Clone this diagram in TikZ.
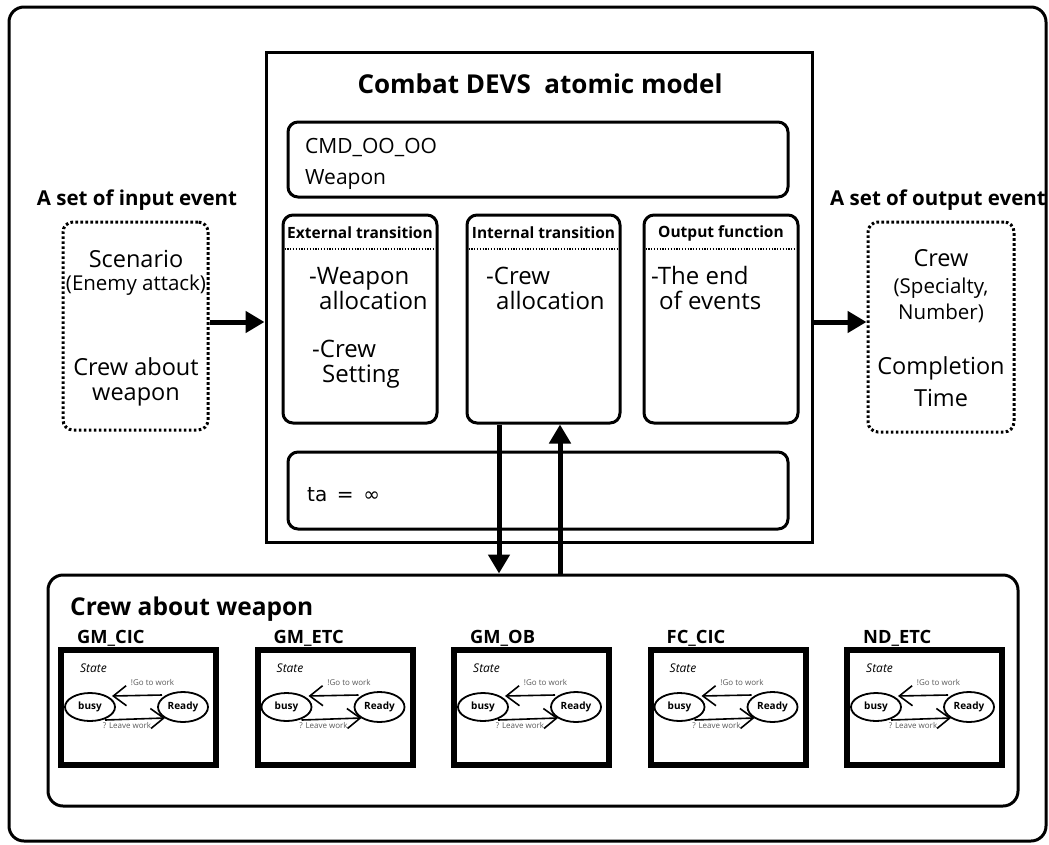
\documentclass[tikz,border=0pt]{standalone}
\usepackage{fontspec}
\setmainfont{Open Sans}
\newfontfamily\symfont{DejaVu Sans}
\usetikzlibrary{arrows.meta,calc,shapes.geometric}

\tikzset{
  frame/.style={draw, line width=3pt, rounded corners=15pt, inner sep=0pt},
  mainbox/.style={draw, line width=3pt, inner sep=0pt},
  rbox/.style={draw, line width=3pt, rounded corners=10pt, inner sep=0pt},
  dotbox/.style={draw, line width=3pt, rounded corners=10pt, inner sep=0pt,
    dash pattern=on 2.6pt off 2.4pt},
  sep/.style={line width=1.3pt, dash pattern=on 1.3pt off 1.5pt},
  bigarrow/.style={line width=5pt, -{Triangle[length=19pt,width=21pt]}},
  statebox/.style={draw, line width=6pt, inner sep=0pt},
  stnode/.style={draw, ellipse, line width=1.8pt, inner sep=0pt,
    font=\fontsize{10}{12}\selectfont\bfseries},
  barb/.style={line width=1.6pt, -{Straight Barb[length=13pt,width=20pt]}},
  tiny/.style={font=\fontsize{8}{9}\selectfont, text=black!65, inner sep=0pt},
  titlefont/.style={font=\fontsize{26}{30}\selectfont\bfseries, inner sep=0pt},
  headfont/.style={font=\fontsize{20.5}{24}\selectfont\bfseries, inner sep=0pt},
  boxhead/.style={font=\fontsize{15.5}{18}\selectfont\bfseries, inner sep=0pt},
  bodytext/.style={font=\fontsize{24}{28}\selectfont, inner sep=0pt, anchor=base west},
  bigtext/.style={font=\fontsize{23.5}{27}\selectfont, inner sep=0pt},
  smalltext/.style={font=\fontsize{20.5}{24}\selectfont, inner sep=0pt},
  cmdtext/.style={font=\fontsize{21}{25}\selectfont, inner sep=0pt, anchor=base west},
}

\begin{document}
\begin{tikzpicture}[x=1pt, y=-1pt]
\useasboundingbox (0,0) rectangle (1049,844);

% outer frame
\node[frame, minimum width=1037pt, minimum height=834pt] (frame) at (527.5,424) {};

% atomic model
\node[mainbox, minimum width=546pt, minimum height=490pt] (main) at (539,297) {};
\node[titlefont] (title) at (540,84) {Combat DEVS\ \ atomic model};

\node[rbox, minimum width=500pt, minimum height=75pt] (cmd) at (538,159.5) {};
\node[cmdtext] (cmd1) at (305,153) {CMD\_OO\_OO};
\node[cmdtext] (cmd2) at (305,184) {Weapon};

% transition / output function boxes
\node[rbox, minimum width=154pt, minimum height=208pt] (ext) at (360,319) {};
\node[rbox, minimum width=153pt, minimum height=208pt] (int) at (543.5,319) {};
\node[rbox, minimum width=154pt, minimum height=208pt] (out) at (721,319) {};

\node[boxhead] (exth) at (ext.center |- 0,233) {External transition};
\node[boxhead] (inth) at (int.center |- 0,233) {Internal transition};
\node[boxhead] (outh) at (out.center |- 0,233) {Output function};
\foreach \b in {ext,int,out}
  \draw[sep] ([xshift=3pt]\b.west |- 0,249) -- ([xshift=-3pt]\b.east |- 0,249);

\node[bodytext] (ext1) at (309,284) {-Weapon};
\node[bodytext] (ext2) at (319,309) {allocation};
\node[bodytext] (ext3) at (312,357) {-Crew};
\node[bodytext] (ext4) at (322,382) {Setting};
\node[bodytext] (int1) at (486,284) {-Crew};
\node[bodytext] (int2) at (496,309) {allocation};
\node[bodytext] (out1) at (651,284) {-The end};
\node[bodytext] (out2) at (659,309) {of events};

% time advance
\node[rbox, minimum width=500pt, minimum height=77pt] (ta) at (538,490.5) {};
\node[font=\symfont\fontsize{20}{24}\selectfont, inner sep=0pt, anchor=base west]
  (tatext) at (307,501) {ta\ \,=\ \,∞};

% input events
\node[headfont] (intitle) at (137,200) {A set of input event};
\node[dotbox, minimum width=145pt, minimum height=208pt] (in) at (135.5,326) {};
\node[bigtext] (in1) at (136,259) {Scenario};
\node[smalltext] (in2) at (136,285) {(Enemy attack)};
\node[bigtext] (in3) at (136,367) {Crew about};
\node[bigtext] (in4) at (136,397) {weapon};

% output events
\node[headfont] (outtitle) at (938,200) {A set of output event};
\node[dotbox, minimum width=146pt, minimum height=210pt] (outev) at (941,327) {};
\node[bigtext] (o1) at (941,258) {Crew};
\node[smalltext] (o2) at (941,288) {(Specialty,};
\node[smalltext] (o3) at (941,313) {Number)};
\node[bigtext] (o4) at (941,368) {Completion};
\node[bigtext] (o5) at (941,398) {Time};

% crew block
\node[frame, minimum width=970pt, minimum height=231pt] (crew) at (533,690.5) {};
\node[font=\fontsize{24.5}{28}\selectfont\bfseries, inner sep=0pt, anchor=base west]
  (crewtitle) at (70,615) {Crew about weapon};

% event flow
\draw[bigarrow] ([yshift=4pt]in.east) -- ([yshift=4pt]in.east -| main.west);
\draw[bigarrow] ([yshift=-25pt]main.east) -- ([yshift=-25pt]main.east -| outev.west);
\draw[bigarrow] ([xshift=-44.5pt]int.south) -- ([xshift=-44.5pt]int.south |- crew.north);
\draw[bigarrow] ([xshift=16.5pt]int.south |- crew.north) -- ([xshift=16.5pt]int.south);

% crew state machines
\foreach \i/\lab in {0/GM\_CIC, 1/GM\_ETC, 2/GM\_OB, 3/FC\_CIC, 4/ND\_ETC} {
  \pgfmathsetmacro\L{58+196.5*\i}
  \node[statebox, minimum width=155pt, minimum height=115pt] (s\i) at (\L+80.5,707.5) {};
  \node[font=\fontsize{18.3}{21}\selectfont\bfseries, inner sep=0pt, anchor=base west]
    (lab\i) at (\L+19,643) {\lab};
  \node[font=\fontsize{12}{14}\selectfont\itshape, inner sep=0pt, anchor=base west]
    (st\i) at (\L+22,672) {State};
  \node[stnode, minimum width=50pt, minimum height=28pt] (busy\i) at (\L+32,707) {busy};
  \node[stnode, minimum width=50pt, minimum height=30pt] (ready\i) at (\L+125,707) {Ready};
  \draw[barb] ($(ready\i.center)+(-21,-12)$) -- ($(busy\i.center)+(22,-11)$);
  \draw[barb] ($(busy\i.center)+(15,13)$) -- ($(ready\i.center)+(-18,11)$);
  \node[tiny] (go\i) at ($(s\i.center)+(14,-24.5)$) {!Go to work};
  \node[tiny] (leave\i) at ($(s\i.center)+(-11.5,18.5)$) {? Leave work};
}
\end{tikzpicture}
\end{document}
